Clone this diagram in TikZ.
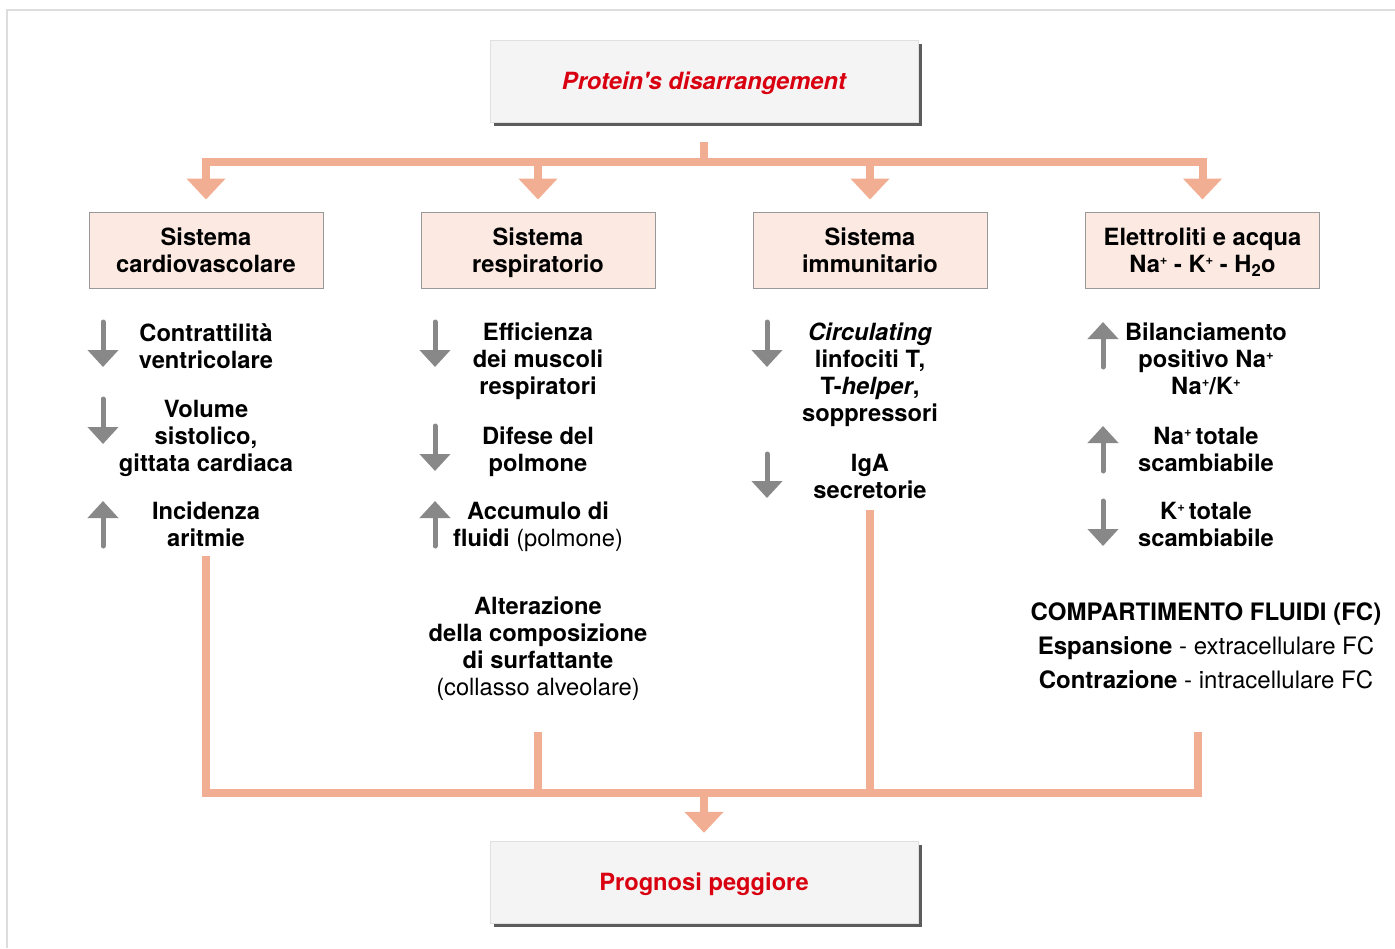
\documentclass[tikz,border=0pt]{standalone}
\usepackage{fontspec}
\setmainfont{TeX Gyre Heros}
\usetikzlibrary{arrows.meta,shadows}
\definecolor{salmon}{HTML}{F2AE93}
\definecolor{pinkfill}{HTML}{FBE9E2}
\definecolor{boxgrey}{HTML}{F4F4F4}
\definecolor{redtxt}{HTML}{D9000F}
\definecolor{arrgrey}{HTML}{888888}
\definecolor{framegrey}{HTML}{DDDDDD}
\newcommand{\supplus}{\raisebox{0.62ex}{\fontsize{13}{13}\selectfont +}}
\begin{document}
\begin{tikzpicture}[x=1pt,y=-1pt,
  mainbox/.style={draw=black!12, fill=boxgrey, minimum width=428pt, minimum height=82pt,
    text height=17pt, text depth=0pt,
    drop shadow={shadow xshift=4pt, shadow yshift=-4pt, fill=black!85, opacity=0.75},
    font=\fontsize{23.7}{27}\selectfont\bfseries, text=redtxt},
  catbox/.style={draw=black!40, line width=1pt, fill=pinkfill, minimum width=234pt, minimum height=76pt,
    text depth=0pt, align=center, font=\fontsize{23.7}{27}\selectfont\bfseries},
  item/.style={align=center, inner sep=0pt, anchor=north, font=\fontsize{23.7}{27}\selectfont\bfseries},
  conn/.style={draw=salmon, line width=8pt},
  carr/.style={conn, -{Triangle[width=38pt,length=21pt]}},
  garr/.style={draw=arrgrey, line width=5pt, line cap=round, -{Triangle[width=30pt,length=17pt]}}
]
\useasboundingbox (0,0) rectangle (1395,948);
\draw[framegrey, line width=2pt] (7,948) -- (7,10) -- (1395,10);

% main boxes
\node[mainbox] (top) at (704,81) {\itshape Protein\textquotesingle s disarrangement};
\node[mainbox] (bot) at (704,882) {Prognosi peggiore};

% category boxes
\node[catbox] (cv) at (206,250) {Sistema\\cardiovascolare};
\node[catbox] (re) at (538,250) {Sistema\\respiratorio};
\node[catbox] (im) at (870,250) {Sistema\\immunitario};
\node[catbox] (el) at (1202.5,250) {Elettroliti e acqua\\Na\supplus{} - K\supplus{} - H\textsubscript{2}o};

% top connectors
\coordinate (bus) at (704,162);
\coordinate (bustop) at (704,158);
\draw[conn] ([yshift=-20pt]top.south) -- (bus);
\draw[conn] (cv.north |- bus) -- (el.north |- bus);
\foreach \n in {cv,re,im,el}
  \draw[carr] (\n.north |- bustop) -- ([yshift=12pt]\n.north);

% column 1
\node[item] (c1a) at (206,323) {Contrattilità\\ventricolare};
\node[item] (c1b) at (206,400) {Volume\\sistolico,\\gittata cardiaca};
\node[item] (c1c) at (206,502) {Incidenza\\aritmie};
\draw[garr] (103,322) -- (103,367);
\draw[garr] (103,399) -- (103,444);
\draw[garr] (103,546) -- (103,501);

% column 2
\node[item] (c2a) at (538,323) {Efficienza\\dei muscoli\\respiratori};
\node[item] (c2b) at (538,427) {Difese del\\polmone};
\node[item] (c2c) at (538,502) {Accumulo di\\fluidi {\mdseries (polmone)}};
\node[item] (c2d) at (538,597) {Alterazione\\della composizione\\di surfattante\\{\mdseries (collasso alveolare)}};
\draw[garr] (435,322) -- (435,367);
\draw[garr] (435,426) -- (435,471);
\draw[garr] (435,546) -- (435,501);

% column 3
\node[item] (c3a) at (870,323) {\textit{Circulating}\\linfociti T,\\T-\textit{helper},\\soppressori};
\node[item] (c3b) at (870,454) {IgA\\secretorie};
\draw[garr] (767,322) -- (767,367);
\draw[garr] (767,454) -- (767,498);

% column 4
\node[item] (c4a) at (1206,323) {Bilanciamento\\positivo Na\supplus\\Na\supplus/K\supplus};
\node[item] (c4b) at (1206,427) {Na\supplus\hspace{4pt}totale\\scambiabile};
\node[item] (c4c) at (1206,502) {K\supplus\hspace{4pt}totale\\scambiabile};
\draw[garr] (1103,367) -- (1103,322);
\draw[garr] (1103,471) -- (1103,426);
\draw[garr] (1103,501) -- (1103,546);
\node[item, font=\fontsize{24}{34}\selectfont\bfseries] (fc) at (1206,603)
  {COMPARTIMENTO FLUIDI (FC)\\Espansione {\mdseries - extracellulare FC}\\Contrazione {\mdseries - intracellulare FC}};

% bottom connectors
\coordinate (bbus) at (704,793);
\coordinate (s1) at (206,556);
\coordinate (s2) at (538,732);
\coordinate (s3) at (870,510);
\coordinate (s4) at (1198,732);
\draw[conn, line join=miter] (s1) -- (s1 |- bbus) -- (s4 |- bbus) -- (s4);
\draw[conn] (s2) -- (s2 |- bbus);
\draw[conn] (s3) -- (s3 |- bbus);
\draw[carr] (bbus) -- ([yshift=8pt]bot.north);
\end{tikzpicture}
\end{document}
